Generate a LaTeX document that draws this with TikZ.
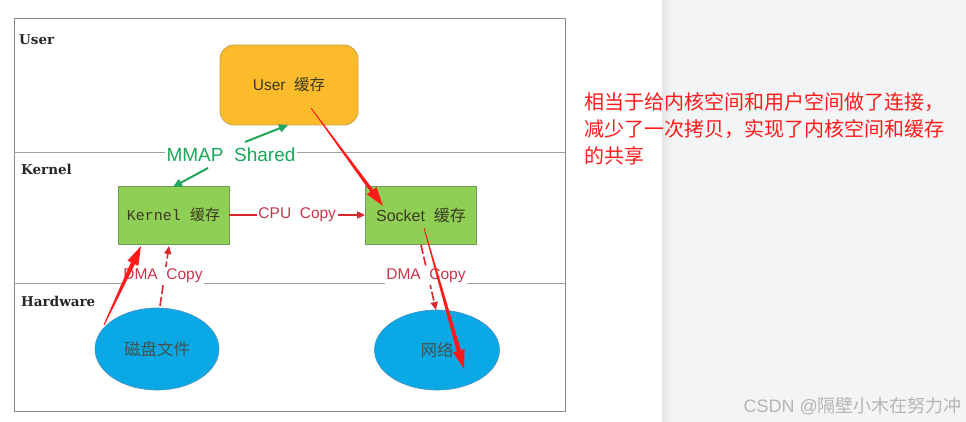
\documentclass[tikz,border=0pt]{standalone}
\usepackage{fontspec}
\setmainfont{Liberation Sans}
\newfontfamily\cjk{Noto Sans CJK SC}
\newfontfamily\monof{Liberation Mono}
\newfontfamily\lserif{DejaVu Serif}
\usetikzlibrary{arrows.meta,shapes.geometric,calc}
\definecolor{bggray}{HTML}{F3F4F6}
\definecolor{frame}{HTML}{8A8A8A}
\definecolor{orangebox}{HTML}{FCBB2A}
\definecolor{orangeedge}{HTML}{C9A04A}
\definecolor{greenbox}{HTML}{90CF55}
\definecolor{greenedge}{HTML}{6F9A55}
\definecolor{blueell}{HTML}{0AA9E6}
\definecolor{blueedge}{HTML}{4A8DBE}
\definecolor{mmapgreen}{HTML}{1FA55A}
\definecolor{darkred}{HTML}{C9364A}
\definecolor{linered}{HTML}{D9262F}
\definecolor{brightred}{HTML}{FF1A1A}
\definecolor{boxtext}{HTML}{3A3A20}
\definecolor{wm}{HTML}{B5B5B5}
\tikzset{
  layerlbl/.style={anchor=base west,font=\lserif\bfseries\fontsize{13.5}{15}\selectfont,text=black!85,inner sep=0pt},
  cachebox/.style={draw=greenedge,fill=greenbox,line width=0.8pt,minimum width=111pt,minimum height=58pt,inner sep=0pt,text=boxtext},
  devell/.style={ellipse,draw=blueedge,fill=blueell,line width=0.6pt,inner sep=0pt,text=boxtext!70!blueedge},
  copylbl/.style={fill=white,inner sep=1.5pt,text=darkred,font=\fontsize{15.5}{17}\selectfont},
  copyline/.style={draw=linered,line width=1.6pt,-{Triangle[length=8pt,width=7pt]}},
  mmaparrow/.style={draw=mmapgreen,line width=2pt,-{Triangle[length=9pt,width=8pt]}},
}
% tapered hand-drawn red arrow from #1 to #2, tail half-width #3, shaft half-width #4, head half-width #5
\newcommand\redtaper[5]{%
  \coordinate (tmpH) at ($(#2)!19pt!(#1)$);
  \fill[brightred] ($(#1)!#3!90:(#2)$) -- ($(tmpH)!#4!-90:(#1)$) -- ($(tmpH)!#5!-90:(#1)$) -- (#2)
     -- ($(tmpH)!#5!90:(#1)$) -- ($(tmpH)!#4!90:(#1)$) -- ($(#1)!#3!-90:(#2)$) -- cycle;}
\begin{document}
\begin{tikzpicture}[x=1pt,y=-1pt]
\useasboundingbox (0,0) rectangle (966,422);
% backgrounds
\fill[white] (0,0) rectangle (662,422);
\fill[bggray] (662,0) rectangle (966,422);
\shade[left color=black!10,right color=bggray] (662,0) rectangle (672,422);
% frame and layer lines
\draw[frame,line width=1pt] (14,19) rectangle (565,411);
\draw[frame!80,line width=0.8pt] (14,152) -- (565,152);
\draw[frame!80,line width=0.8pt] (14,283) -- (565,283);
\node[layerlbl] (luser) at (19,45) {User};
\node[layerlbl] (lkernel) at (21,175) {Kernel};
\node[layerlbl] (lhw) at (21,306) {Hardware};
% boxes
\node[draw=orangeedge,fill=orangebox,rounded corners=14pt,line width=0.8pt,minimum width=138pt,minimum height=80pt,inner sep=0pt,text=boxtext,font=\fontsize{15.5}{17}\selectfont] (user) at (289,85) {User\ \ {\cjk 缓存}};
\node[cachebox,font=\monof\fontsize{15}{17}\selectfont] (kernel) at (173.5,215) {Kernel {\cjk 缓存}};
\node[cachebox,font=\fontsize{16}{18}\selectfont] (socket) at (421,215) {Socket\ \ {\cjk 缓存}};
\node[devell,minimum width=124pt,minimum height=82pt,font=\cjk\fontsize{16.5}{18}\selectfont] (disk) at (157,349) {磁盘文件};
\node[devell,minimum width=125pt,minimum height=80pt,font=\cjk\fontsize{16.5}{18}\selectfont] (net) at (437,350) {网络};
% MMAP shared
\node[fill=white,inner sep=2pt,text=mmapgreen,font=\fontsize{19}{21}\selectfont] (mmap) at (231,155) {MMAP\ \ Shared};
\coordinate (g1s) at (245,142);
\coordinate (g1e) at (288,125);
\coordinate (g2s) at (208,168);
\coordinate (g2e) at (173,187);
\draw[mmaparrow] (g1s) -- (g1e);
\draw[mmaparrow] (g2s) -- (g2e);
% CPU copy
\draw[copyline] (kernel.east) -- (socket.west) node[copylbl,midway] (cpu) {CPU\ \ Copy};
% DMA copies
\coordinate (d1s) at (160,306);
\coordinate (d1e) at (169,246);
\draw[copyline,dash pattern=on 9pt off 3pt] (d1s) -- (d1e);
\node[copylbl] (dma1) at (163,276) {DMA\ \ Copy};
\coordinate (d2s) at (421,245);
\coordinate (d2e) at (436,310);
\draw[copyline,dash pattern=on 9pt off 3pt] (d2s) -- (d2e);
\node[copylbl] (dma2) at (426,276) {DMA\ \ Copy};
% red annotation arrows
\coordinate (a1s) at (311,108);
\coordinate (a1e) at (383,206);
\coordinate (a2s) at (104,325);
\coordinate (a2e) at (141,246);
\coordinate (a3s) at (424,228);
\coordinate (a3e) at (464,369);
\redtaper{a1s}{a1e}{0.4pt}{1.8pt}{6pt}
\redtaper{a2s}{a2e}{0.5pt}{2.2pt}{6pt}
\redtaper{a3s}{a3e}{0.4pt}{2.2pt}{6pt}
% note text
\node[anchor=base west,inner sep=0pt,text=brightred,font=\cjk\fontsize{20}{27}\selectfont] (n1) at (584,110) {相当于给内核空间和用户空间做了连接，};
\node[anchor=base west,inner sep=0pt,text=brightred,font=\cjk\fontsize{20}{27}\selectfont] (n2) at (584,137) {减少了一次拷贝，实现了内核空间和缓存};
\node[anchor=base west,inner sep=0pt,text=brightred,font=\cjk\fontsize{20}{27}\selectfont] (n3) at (584,164) {的共享};
% watermark
\node[anchor=base east,inner sep=0pt,text=wm,font=\fontsize{18}{20}\selectfont] (wmk) at (962,412) {CSDN @{\cjk 隔壁小木在努力冲}};
\end{tikzpicture}
\end{document}
